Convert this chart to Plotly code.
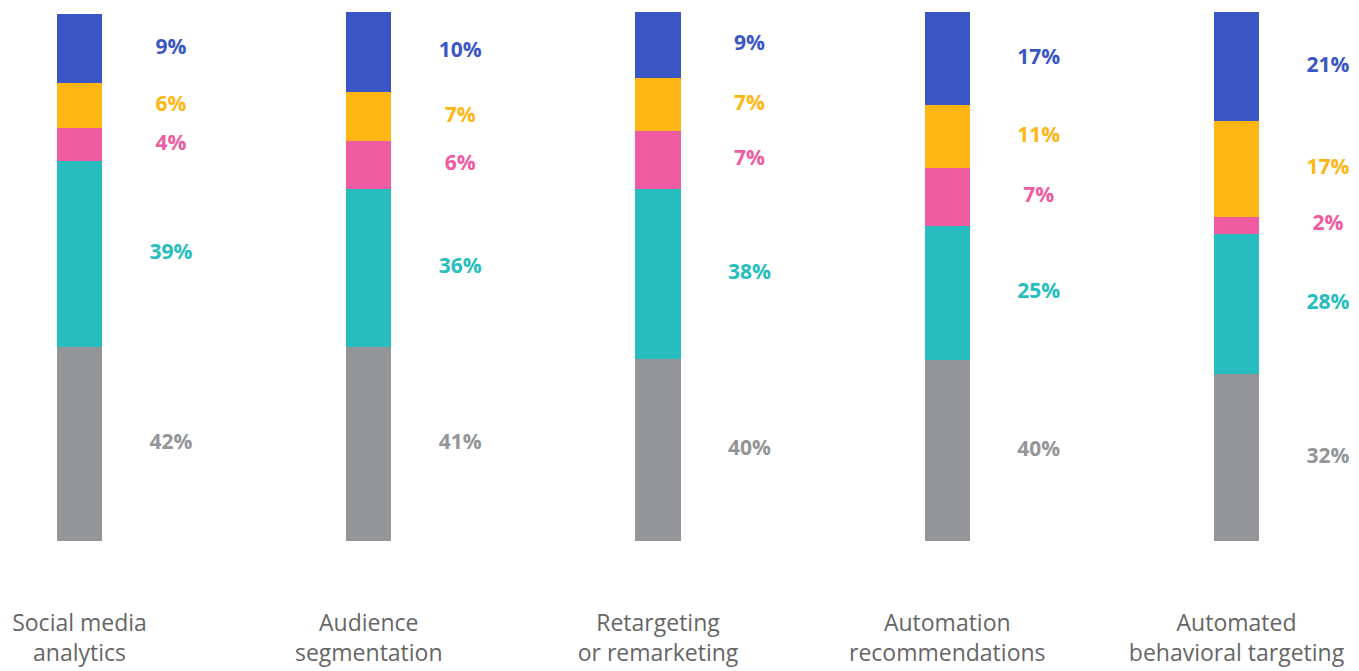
import plotly.graph_objects as go

categories = ["Social media<br>analytics", "Audience<br>segmentation", "Retargeting<br>or remarketing",
              "Automation<br>recommendations", "Automated<br>behavioral targeting"]

# segment heights as drawn (share of bar height, %)
gray_h   = [36.7, 36.7, 34.4, 34.2, 31.6]
teal_h   = [35.2, 29.9, 32.1, 25.3, 26.5]
pink_h   = [6.2, 9.1, 11.0, 11.0, 3.2]
orange_h = [8.5, 9.1, 10.0, 11.9, 18.1]
blue_h   = [13.0, 15.5, 12.5, 17.6, 20.6]

# printed percentage labels
gray_lbl   = [42, 41, 40, 40, 32]
teal_lbl   = [39, 36, 38, 25, 28]
pink_lbl   = [4, 6, 7, 7, 2]
orange_lbl = [6, 7, 7, 11, 17]
blue_lbl   = [9, 10, 9, 17, 21]

series = [
    ("gray", gray_h, gray_lbl, "#939598"),
    ("teal", teal_h, teal_lbl, "#27bdbe"),
    ("pink", pink_h, pink_lbl, "#ee5ba0"),
    ("orange", orange_h, orange_lbl, "#ffb612"),
    ("blue", blue_h, blue_lbl, "#3a56c5"),
]

xs = list(range(len(categories)))
fig = go.Figure()
base = [0.0] * len(xs)
label_dx = 0.316
for name, h, lbl, col in series:
    fig.add_trace(go.Bar(x=xs, y=h, name=name, marker=dict(color=col, line=dict(width=0)),
                         width=0.156, showlegend=False, hoverinfo="skip"))
    centers = [b + v / 2 for b, v in zip(base, h)]
    fig.add_trace(go.Scatter(x=[x + label_dx for x in xs], y=centers, mode="text",
                             text=[f"{v}%" for v in lbl],
                             textfont=dict(family="Open Sans", size=21, color=col, weight="bold"),
                             showlegend=False, hoverinfo="skip"))
    base = [b + v for b, v in zip(base, h)]

fig.update_layout(
    barmode="stack",
    width=1359, height=671,
    margin=dict(l=0, r=0, t=12, b=130, autoexpand=False),
    paper_bgcolor="white", plot_bgcolor="white",
    xaxis=dict(range=[-0.2749, 4.4235], tickvals=xs, ticktext=categories,
               showgrid=False, zeroline=False, showline=False, ticks="",
               tickfont=dict(family="Open Sans", size=23, color="#666666"),
               ticklabelstandoff=66),
    yaxis=dict(range=[0, 100], visible=False, showgrid=False, zeroline=False),
)

fig.write_html("out.html", config={"displayModeBar": False},
               post_script="document.body.style.margin='0';")
